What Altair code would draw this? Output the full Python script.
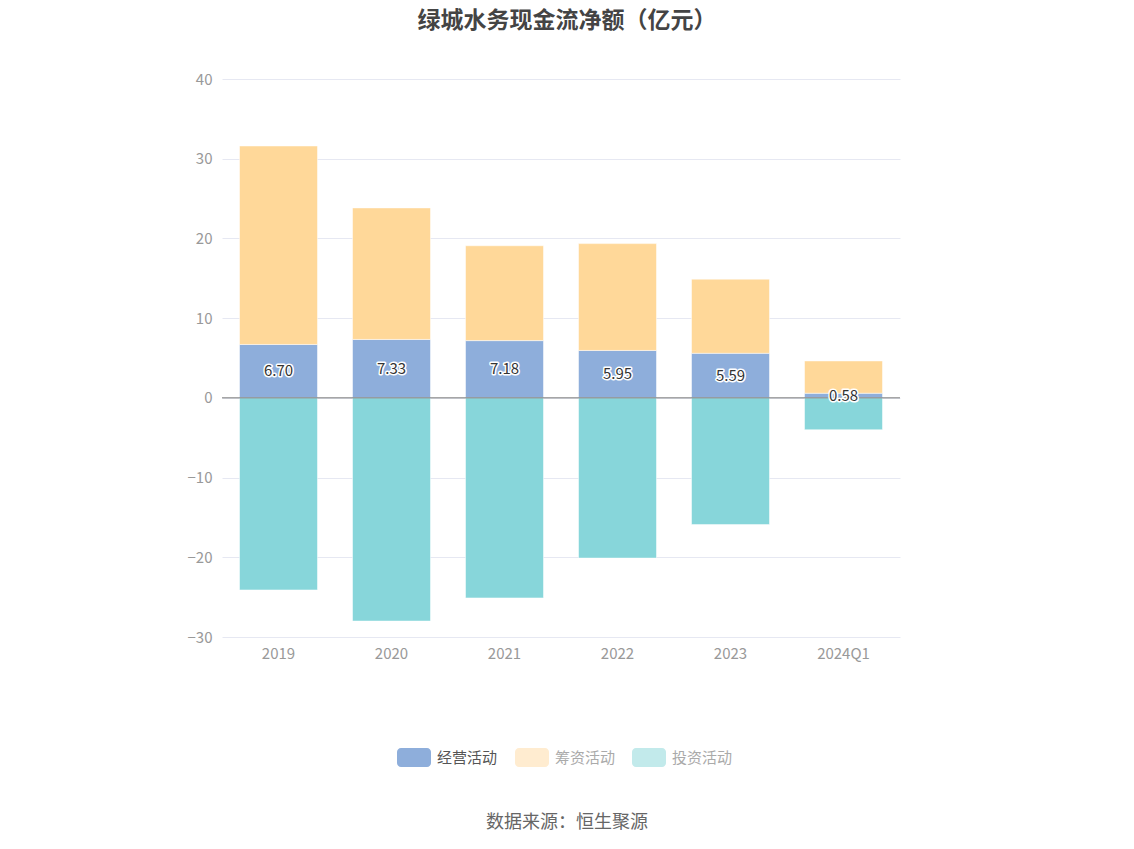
import altair as alt
import pandas as pd

years = ["2019", "2020", "2021", "2022", "2023", "2024Q1"]
operating = [6.70, 7.33, 7.18, 5.95, 5.59, 0.58]
financing = [24.9, 16.5, 11.9, 13.4, 9.3, 4.05]
investing = [-24.1, -28.0, -25.1, -20.1, -15.9, -4.0]

series_names = ["经营活动", "筹资活动", "投资活动"]
series_colors = ["#8eaedb", "#ffd899", "#87d6da"]
legend_colors = ["#8eaedb", "#ffecd0", "#c2eaeb"]
legend_text_colors = ["#555555", "#aaaaaa", "#aaaaaa"]
title_text = "绿城水务现金流净额（亿元）"
source_text = "数据来源：恒生聚源"

FONT = "Noto Sans CJK SC"

rows = []
for i, y in enumerate(years):
    rows.append({"year": y, "series": "经营活动", "y0": 0, "y1": operating[i], "order": 0})
    rows.append({"year": y, "series": "筹资活动", "y0": operating[i], "y1": operating[i] + financing[i], "order": 1})
    rows.append({"year": y, "series": "投资活动", "y0": 0, "y1": investing[i], "order": 2})
df = pd.DataFrame(rows)

lab = pd.DataFrame({"year": years, "v": operating, "mid": [v / 2 for v in operating],
                    "txt": [f"{v:.2f}" for v in operating]})

xenc = alt.X("year:N", sort=years, title=None,
             scale=alt.Scale(paddingInner=0.31, paddingOuter=0.155),
             axis=alt.Axis(labelColor="#999999", labelFontSize=15, labelFont=FONT,
                           ticks=False, domain=False, labelPadding=9, labelAngle=0))

bars = alt.Chart(df).mark_bar(stroke="white", strokeWidth=0.5).encode(
    x=xenc,
    y=alt.Y("y0:Q", title=None,
            scale=alt.Scale(domain=[-30, 40], nice=False, zero=False),
            axis=alt.Axis(values=[-30, -20, -10, 0, 10, 20, 30, 40], labelColor="#999999",
                          labelFontSize=15, labelFont=FONT, ticks=False, domain=False,
                          gridColor="#e6e8f2", labelPadding=10)),
    y2="y1:Q",
    color=alt.Color("series:N", scale=alt.Scale(domain=series_names, range=series_colors), legend=None),
)

zero = alt.Chart(pd.DataFrame({"z": [0]})).mark_rule(color="#777777", strokeWidth=1).encode(
    y=alt.Y("z:Q"))

halo = alt.Chart(lab).mark_text(fontSize=15, font=FONT, stroke="white", strokeWidth=3,
                                strokeJoin="round", color="white").encode(
    x=alt.X("year:N", sort=years), y=alt.Y("mid:Q"), text="txt:N")
txt = alt.Chart(lab).mark_text(fontSize=15, font=FONT, color="#333333").encode(
    x=alt.X("year:N", sort=years), y=alt.Y("mid:Q"), text="txt:N")

layers = [bars, zero, halo, txt]

# title
layers.append(alt.Chart(pd.DataFrame({"a": [title_text]})).mark_text(
    align="center", baseline="middle", fontSize=23, fontWeight="bold", font=FONT,
    color="#444444").encode(x=alt.value(345), y=alt.value(-58), text="a:N"))

# manual legend
sym_x = [175, 293, 410]
for i, name in enumerate(series_names):
    layers.append(alt.Chart(pd.DataFrame({"a": [0]})).mark_rect(
        cornerRadius=4, color=legend_colors[i]).encode(
        x=alt.value(sym_x[i]), x2=alt.value(sym_x[i] + 34),
        y=alt.value(669), y2=alt.value(688)))
    layers.append(alt.Chart(pd.DataFrame({"a": [name]})).mark_text(
        align="left", baseline="middle", fontSize=15, font=FONT,
        color=legend_text_colors[i]).encode(
        x=alt.value(sym_x[i] + 40), y=alt.value(679), text="a:N"))

layers.append(alt.Chart(pd.DataFrame({"a": [source_text]})).mark_text(
    align="center", baseline="middle", fontSize=18, font=FONT, color="#666666").encode(
    x=alt.value(345), y=alt.value(744), text="a:N"))

chart = alt.layer(*layers).properties(
    width=678, height=558,
    autosize=alt.AutoSizeParams(type="none"),
    padding={"left": 214, "top": 71, "right": 210, "bottom": 200},
).configure_view(stroke=None)

chart.save("out.html", embed_options={"renderer": "svg", "actions": False})
